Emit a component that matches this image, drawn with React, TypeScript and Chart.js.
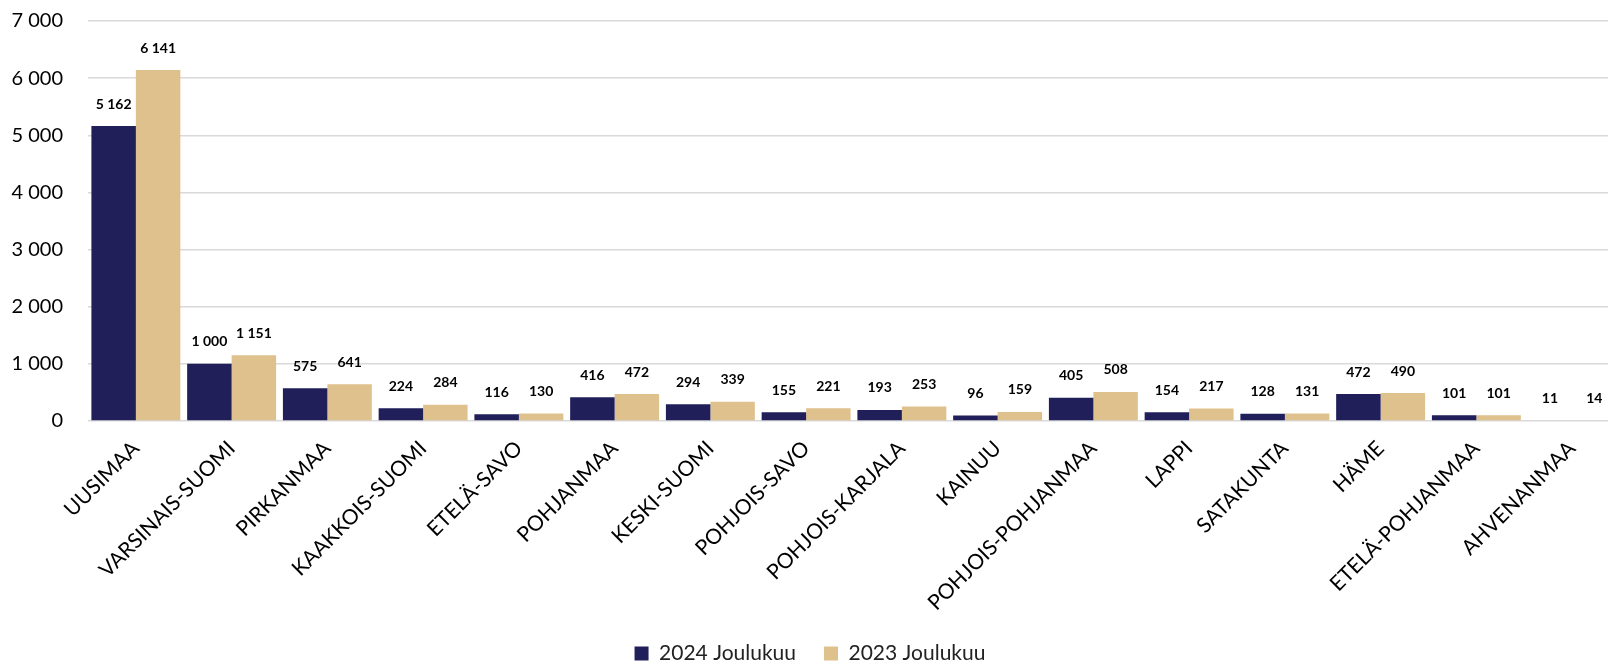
import React, { useEffect, useRef } from "react";
import { Chart, registerables } from "chart.js";

Chart.register(...registerables);

const categories = [
  "UUSIMAA",
  "VARSINAIS-SUOMI",
  "PIRKANMAA",
  "KAAKKOIS-SUOMI",
  "ETELÄ-SAVO",
  "POHJANMAA",
  "KESKI-SUOMI",
  "POHJOIS-SAVO",
  "POHJOIS-KARJALA",
  "KAINUU",
  "POHJOIS-POHJANMAA",
  "LAPPI",
  "SATAKUNTA",
  "HÄME",
  "ETELÄ-POHJANMAA",
  "AHVENANMAA",
];

const series2024 = [5162, 1000, 575, 224, 116, 416, 294, 155, 193, 96, 405, 154, 128, 472, 101, 11];
const series2023 = [6141, 1151, 641, 284, 130, 472, 339, 221, 253, 159, 508, 217, 131, 490, 101, 14];

const seriesNames = ["2024 Joulukuu", "2023 Joulukuu"];
const seriesColors = ["#211f5a", "#dfc18d"];

const FONT = "Lato, 'Open Sans', sans-serif";

const fmt = (v: number) =>
  String(v).replace(/\B(?=(\d{3})+(?!\d))/g, " ");

const dataLabelPlugin = {
  id: "dataLabels",
  afterDatasetsDraw(chart: any) {
    const ctx = chart.ctx;
    ctx.save();
    ctx.font = `bold 14px ${FONT}`;
    ctx.fillStyle = "#000";
    ctx.textAlign = "center";
    ctx.textBaseline = "middle";
    chart.data.datasets.forEach((ds: any, i: number) => {
      const meta = chart.getDatasetMeta(i);
      meta.data.forEach((el: any, j: number) => {
        ctx.fillText(fmt(ds.data[j]), el.x, el.y - 22);
      });
    });
    ctx.restore();
  },
};

const CW = 1650;
const CH = 690;
const SHIFT = 16;

export default function App() {
  const ref = useRef<HTMLCanvasElement>(null);

  useEffect(() => {
    if (!ref.current) return;
    const chart = new Chart(ref.current, {
      type: "bar",
      data: {
        labels: categories,
        datasets: [
          {
            label: seriesNames[0],
            data: series2024,
            backgroundColor: seriesColors[0],
            categoryPercentage: 0.929,
            barPercentage: 1,
          },
          {
            label: seriesNames[1],
            data: series2023,
            backgroundColor: seriesColors[1],
            categoryPercentage: 0.929,
            barPercentage: 1,
          },
        ],
      },
      options: {
        animation: false,
        responsive: false,
        devicePixelRatio: 1,
        layout: { padding: { top: 5, right: 30, bottom: 0, left: 0 } },
        plugins: {
          legend: {
            position: "bottom",
            labels: {
              boxWidth: 14,
              boxHeight: 14,
              padding: 28,
              color: "#222",
              font: { family: FONT, size: 21 },
            },
          },
          tooltip: { enabled: false },
        },
        scales: {
          x: {
            grid: { display: false },
            border: { display: false },
            ticks: {
              minRotation: 45,
              maxRotation: 45,
              autoSkip: false,
              padding: 7,
              color: "#000",
              font: { family: FONT, size: 21 },
            },
            afterFit: (s: any) => {
              s.height = 194;
            },
          },
          y: {
            min: 0,
            max: 7000,
            border: { display: false },
            grid: { color: "#d9d9d9", lineWidth: 1.5, drawTicks: false },
            ticks: {
              stepSize: 1000,
              padding: 25,
              color: "#000",
              font: { family: FONT, size: 20 },
              callback: (v: any) => fmt(Number(v)),
            },
            afterFit: (s: any) => {
              s.width = 88;
            },
          },
        },
      },
      plugins: [dataLabelPlugin],
    });
    return () => chart.destroy();
  }, []);

  return (
    <div style={{ position: "fixed", left: 0, top: 0, width: 1608, height: 661, overflow: "hidden", background: "#fff" }}>
      <canvas
        ref={ref}
        width={CW}
        height={CH}
        style={{ display: "block", width: CW, height: CH, marginTop: -SHIFT }}
      />
    </div>
  );
}
